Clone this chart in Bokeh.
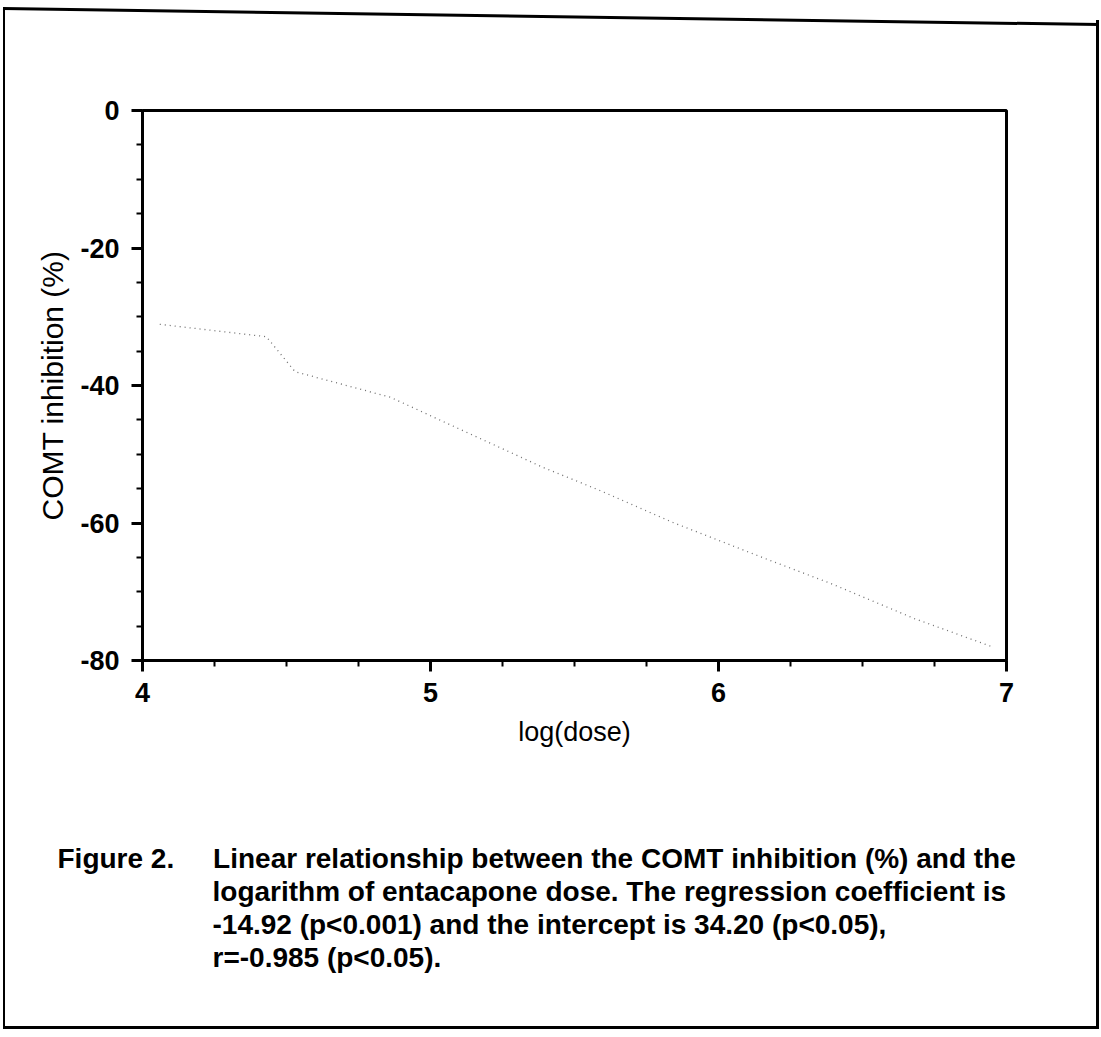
from bokeh.plotting import figure
from bokeh.models import Range1d, FixedTicker, Title, InlineStyleSheet
from bokeh.embed import file_html
from bokeh.resources import INLINE

# ---- data ----
log_dose = [4.06, 4.43, 4.53, 4.86, 5.39, 5.59, 5.84, 6.17, 6.39, 6.68, 6.95]
comt_inhibition = [-31.1, -32.9, -38.0, -41.7, -51.9, -55.3, -59.9, -65.3, -68.8, -73.9, -78.0]
x_major = [4, 5, 6, 7]
x_tick_labels = ["4", "5", "6", "7"]
x_minor = [4.25, 4.5, 4.75, 5.25, 5.5, 5.75, 6.25, 6.5, 6.75]
y_major = [0, -20, -40, -60, -80]
y_tick_labels = ["0", "-20", "-40", "-60", "-80"]
y_minor = [v for v in range(-75, 0, 5) if v % 20 != 0]
x_title = "log(dose)"
y_title = "COMT inhibition (%)"
caption_head = "Figure 2."
caption_lines = [
    "Linear relationship between the COMT inhibition (%) and the",
    "logarithm of entacapone dose. The regression coefficient is",
    "-14.92 (p<0.001) and the intercept is 34.20 (p<0.05),",
    "r=-0.985 (p<0.05).",
]

W, H = 1101, 1037
BL, BR, BT, BB = 142, 95, 110, 377

p = figure(width=W, height=H, x_range=Range1d(4, 7), y_range=Range1d(-80, 0),
           output_backend="svg", toolbar_location=None,
           min_border_left=BL, min_border_right=BR, min_border_top=BT, min_border_bottom=BB)
p.grid.visible = False
p.background_fill_color = "white"
p.border_fill_color = "white"
p.outline_line_color = "black"
p.outline_line_width = 3

FONT = "Liberation Sans"
for ax in (p.xaxis[0], p.yaxis[0]):
    ax.axis_line_width = 3
    ax.axis_line_color = "black"
    ax.major_tick_line_width = 3
    ax.minor_tick_line_width = 2
    ax.major_tick_out = 11
    ax.major_tick_in = 0
    ax.minor_tick_out = 6
    ax.minor_tick_in = 0
    ax.major_label_text_font = FONT
    ax.major_label_text_font_style = "bold"
    ax.major_label_text_font_size = "27px"
    ax.major_label_text_color = "black"
    ax.axis_label_text_font = FONT
    ax.axis_label_text_font_style = "normal"
    ax.axis_label_text_color = "black"

p.xaxis.axis_label_text_font_size = "27px"
p.yaxis.axis_label_text_font_size = "30px"
p.xaxis.ticker = FixedTicker(ticks=x_major, minor_ticks=x_minor)
p.yaxis.ticker = FixedTicker(ticks=y_major, minor_ticks=y_minor)
p.xaxis.major_label_overrides = dict(zip(x_major, x_tick_labels))
p.yaxis.major_label_overrides = dict(zip(y_major, y_tick_labels))
p.xaxis.axis_label = x_title
p.yaxis.axis_label = y_title
p.xaxis.major_label_standoff = 11
p.yaxis.major_label_standoff = 12
p.xaxis.axis_label_standoff = 12
p.yaxis.axis_label_standoff = 8

p.line(log_dose, comt_inhibition, line_color="#6e6e6e", line_width=1.3, line_dash="1 4")

# caption as titles below the plot (first one is an empty spacer)
NB = "\u00a0"
cap_font = "28px"
p.add_layout(Title(text=NB, standoff=58, text_font=FONT, text_font_size=cap_font), "below")
texts = [caption_head + NB * 5 + caption_lines[0]] + caption_lines[1:]
offsets = [57 - BL] + [212 - BL] * 3
for t, off in zip(texts, offsets):
    p.add_layout(Title(text=t, align="left", offset=off, standoff=0,
                       text_font=FONT, text_font_style="bold", text_font_size=cap_font,
                       text_color="black"), "below")

# outer frame of the scanned page (slightly tilted top edge)
css = """
:host::after {
  content: ""; position: absolute; left: 3px; top: 7px; width: 1096px; height: 1022px;
  box-sizing: border-box; border-left: 2px solid #000; border-bottom: 3px solid #000;
  background: linear-gradient(#000, #000) no-repeat; background-size: 3px 1006px;
  background-position: right bottom; pointer-events: none; z-index: 50;
}
:host::before {
  content: ""; position: absolute; left: 3px; top: 7px; width: 1096px; height: 0;
  border-top: 3px solid #000; transform-origin: 0 0; transform: rotate(0.84deg);
  pointer-events: none; z-index: 50;
}
"""
p.stylesheets = [InlineStyleSheet(css=css)]

open("out.html", "w").write(file_html(p, INLINE))
